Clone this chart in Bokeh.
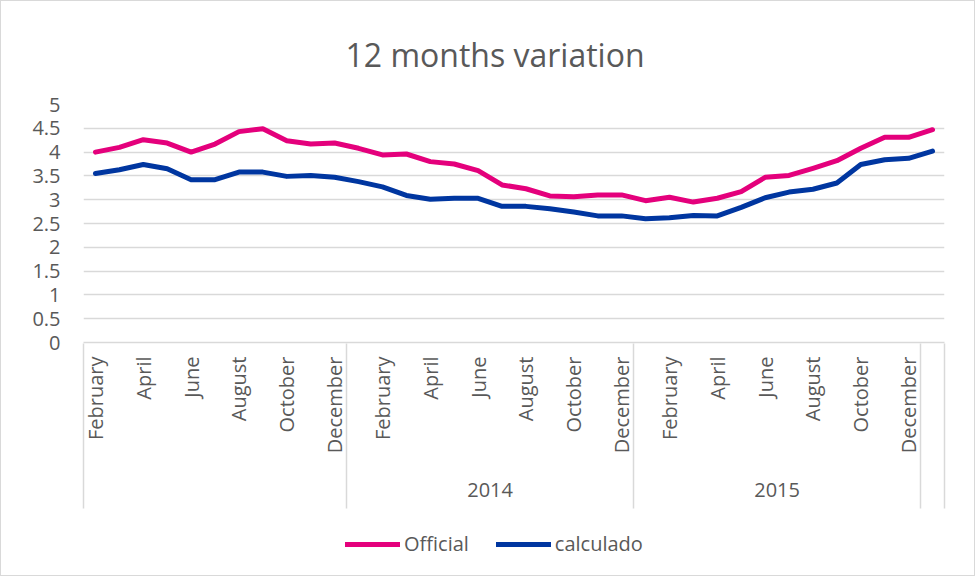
import math
from bokeh.plotting import figure
from bokeh.layouts import column
from bokeh.models import (Range1d, FixedTicker, LinearAxis, CustomJSTickFormatter,
                          NumeralTickFormatter, Legend, LegendItem)
from bokeh.embed import file_html
from bokeh.resources import INLINE

# ---- data ----
months = (["February", "March", "April", "May", "June", "July", "August",
           "September", "October", "November", "December"]
          + ["January", "February", "March", "April", "May", "June", "July",
             "August", "September", "October", "November", "December"] * 2
          + ["January"])
years = [""] * 11 + ["2014"] * 12 + ["2015"] * 12 + [""] * 1
shown_months = ["February", "April", "June", "August", "October", "December"]
series_names = ["Official", "calculado"]

official = [4.00, 4.10, 4.26, 4.19, 4.00, 4.17, 4.43, 4.49, 4.24, 4.17, 4.19,
            4.08, 3.94, 3.96, 3.80, 3.75, 3.61, 3.31, 3.23, 3.08, 3.06, 3.10, 3.10,
            2.98, 3.05, 2.95, 3.03, 3.17, 3.47, 3.51, 3.66, 3.82, 4.08, 4.31, 4.31,
            4.47]
calculado = [3.55, 3.63, 3.74, 3.65, 3.42, 3.42, 3.58, 3.58, 3.49, 3.51, 3.47,
             3.38, 3.27, 3.09, 3.01, 3.03, 3.03, 2.86, 2.86, 2.81, 2.74, 2.66, 2.66,
             2.60, 2.62, 2.67, 2.66, 2.84, 3.04, 3.16, 3.22, 3.35, 3.74, 3.84, 3.87,
             4.02]
y_ticks = [0, 0.5, 1, 1.5, 2, 2.5, 3, 3.5, 4, 4.5, 5]

n = len(months)
xs = [i + 0.5 for i in range(n)]

# group boundaries / centres from the year list
bounds = [0]
for i in range(1, n):
    if years[i] != years[i - 1]:
        bounds.append(i)
bounds.append(n)
centres = [(bounds[k] + bounds[k + 1]) / 2 for k in range(len(bounds) - 1)]

TXT = "#595959"
GRID = "#d9d9d9"
FONT = "Open Sans"
PINK = "#e4007c"
BLUE = "#0036a0"
W = 973

p = figure(width=W, height=512, output_backend="svg", toolbar_location=None,
           x_range=Range1d(0, n), y_range=Range1d(0, 5),
           min_border_left=82, min_border_right=30, min_border_top=103,
           min_border_bottom=171)
p.outline_line_color = None

p.title.text = "12 months  variation"
p.title.align = "left"
p.title.text_font = FONT
p.title.text_font_size = "32px"
p.title.text_font_style = "normal"
p.title.text_color = TXT
p.title.standoff = 58
p.title.offset = 262

p.line(xs, official, line_color=PINK, line_width=5, line_cap="round", line_join="round")
p.line(xs, calculado, line_color=BLUE, line_width=5, line_cap="round", line_join="round")

# y axis
p.yaxis.ticker = FixedTicker(ticks=y_ticks)
p.yaxis.formatter = NumeralTickFormatter(format="0.[0]")
p.yaxis.axis_line_color = None
p.yaxis.major_tick_line_color = None
p.yaxis.minor_tick_line_color = None
p.yaxis.major_label_standoff = 17
p.yaxis.major_label_text_font = FONT
p.yaxis.major_label_text_font_size = "20px"
p.yaxis.major_label_text_color = TXT
p.ygrid.grid_line_color = GRID
p.ygrid.grid_line_width = 1.5
p.xgrid.grid_line_color = None

# month axis
month_ticks = [i + 0.5 for i in range(n) if months[i] in shown_months]
xa = p.xaxis[0]
xa.ticker = FixedTicker(ticks=month_ticks)
xa.formatter = CustomJSTickFormatter(args=dict(labels=months),
                                     code="return labels[Math.floor(tick)];")
xa.major_label_orientation = math.pi / 2
xa.major_label_standoff = 14
xa.major_label_text_font = FONT
xa.major_label_text_font_size = "20px"
xa.major_label_text_color = TXT
xa.major_tick_out = 0
xa.major_tick_in = 0
xa.minor_tick_line_color = None
xa.axis_line_color = GRID
xa.axis_line_width = 1.5

# year axis
ya = LinearAxis(ticker=FixedTicker(ticks=centres),
                formatter=CustomJSTickFormatter(args=dict(labels=years),
                                                code="return labels[Math.floor(tick)];"))
ya.axis_line_color = None
ya.major_tick_line_color = None
ya.minor_tick_line_color = None
ya.major_label_standoff = 20
ya.major_label_text_font = FONT
ya.major_label_text_font_size = "20px"
ya.major_label_text_color = TXT
p.add_layout(ya, "below")

# group separators: ticks of an outer, label-less axis reaching up to the frame
sa = LinearAxis(ticker=FixedTicker(ticks=bounds),
                formatter=CustomJSTickFormatter(code="return '';"))
sa.axis_line_color = None
sa.major_tick_in = 156
sa.major_tick_out = 9
sa.major_tick_line_color = GRID
sa.major_tick_line_width = 1.5
sa.minor_tick_line_color = None
sa.major_label_standoff = 0
sa.major_label_text_font_size = "0px"
p.add_layout(sa, "below")

# legend strip (second figure under the chart); its series lie outside its view
q = figure(width=W, height=62, output_backend="svg", toolbar_location=None,
           x_range=Range1d(0, n), y_range=Range1d(10, 11),
           min_border_left=0, min_border_right=0, min_border_top=0,
           min_border_bottom=0)
q.outline_line_color = None
q.axis.visible = False
q.grid.visible = False
lr1 = q.line(xs, official, line_color=PINK, line_width=5, line_cap="round")
lr2 = q.line(xs, calculado, line_color=BLUE, line_width=5, line_cap="round")
legend = Legend(items=[LegendItem(label=series_names[0], renderers=[lr1]),
                       LegendItem(label=series_names[1], renderers=[lr2])],
                orientation="horizontal", location=(262, 18), margin=0,
                padding=0, spacing=27, glyph_width=55, glyph_height=20,
                label_standoff=4, label_text_font=FONT, label_text_font_size="20px",
                label_text_color=TXT, border_line_color=None,
                background_fill_alpha=0)
q.add_layout(legend)

layout = column(p, q, spacing=0)
layout.styles = {"border": "1px solid #d9d9d9"}

open("out.html", "w").write(file_html(layout, INLINE))
